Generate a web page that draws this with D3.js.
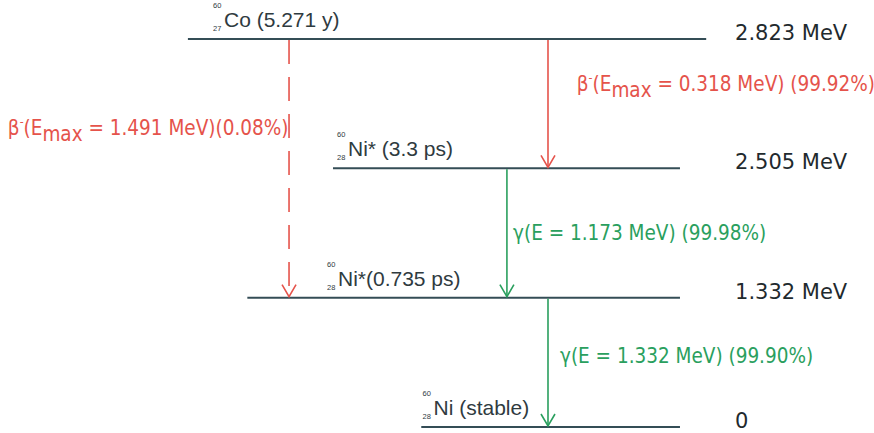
<!DOCTYPE html>
<html>
<head>
<meta charset="utf-8">
<script src="https://cdn.jsdelivr.net/npm/d3@7/dist/d3.min.js"></script>
<style>
  html, body { margin: 0; padding: 0; background: #fff; }
  svg { display: block; }
  .lvl-name { font-family: "Liberation Sans", Arial, sans-serif; fill: #2f3b3f; }
  .lvl-energy { font-family: "DejaVu Sans", sans-serif; fill: #1f2a2e; }
  .trans-label { font-family: "DejaVu Sans", sans-serif; font-stretch: condensed; }
</style>
</head>
<body>
<svg id="chart" width="874" height="433"></svg>
<script>
// Energy levels of the 60Co decay scheme (top to bottom)
const levelIds      = ["co60", "ni60_2", "ni60_1", "ni60_0"];
const levelEnergies = [2.823, 2.505, 1.332, 0];
const levelEnergyLabels = ["2.823 MeV", "2.505 MeV", "1.332 MeV", "0"];
const levelElements = ["Co", "Ni", "Ni", "Ni"];
const levelZ        = [27, 28, 28, 28];
const levelA        = [60, 60, 60, 60];
const levelStates   = [" (5.271 y)", "* (3.3 ps)", "*(0.735 ps)", " (stable)"];

// Transitions between levels
const transFrom   = ["co60", "co60", "ni60_2", "ni60_1"];
const transTo     = ["ni60_2", "ni60_1", "ni60_1", "ni60_0"];
const transKind   = ["beta", "beta", "gamma", "gamma"];
const transEnergy = [0.318, 1.491, 1.173, 1.332];
const transBranch = ["99.92%", "0.08%", "99.98%", "99.90%"];

const svg = d3.select("#chart");
const W = 874, H = 433;

// Schematic vertical placement: levels evenly spaced
const y = d3.scalePoint().domain(levelIds).range([39, 427]);
// Horizontal layout in chart units (0..100)
const x = d3.scaleLinear().domain([0, 100]).range([0, W]);

const levelSpan = {
  co60:   [21.5, 80.8],
  ni60_2: [38.1, 77.8],
  ni60_1: [28.3, 77.8],
  ni60_0: [48.2, 77.8]
};
const nameX = { co60: 25.63, ni60_2: 39.82, ni60_1: 38.67, ni60_0: 49.6 };
const transX = [62.7, 33.07, 58.0, 62.7];

const red = "#e5534b", green = "#2a9f5e", dark = "#344d56";

// Level lines
levelIds.forEach((id, i) => {
  const [a, b] = levelSpan[id];
  svg.append("line")
    .attr("x1", x(a)).attr("x2", x(b))
    .attr("y1", y(id)).attr("y2", y(id))
    .attr("stroke", dark).attr("stroke-width", 2);

  // Energy value on the right
  svg.append("text").attr("class", "lvl-energy")
    .attr("x", x(84.1)).attr("y", y(id) + 1)
    .attr("font-size", 21)
    .text(levelEnergyLabels[i]);

  // Nuclide label with A and Z prescripts
  const nx = x(nameX[id]), ny = y(id) - 12;
  const g = svg.append("g").attr("class", "lvl-name");
  g.append("text").attr("x", nx - 11).attr("y", ny - 19).attr("font-size", 7.5).text(levelA[i]);
  g.append("text").attr("x", nx - 11).attr("y", ny + 4).attr("font-size", 7.5).text(levelZ[i]);
  g.append("text").attr("x", nx).attr("y", ny).attr("font-size", 21)
    .text(levelElements[i] + levelStates[i]);
});

// Transition arrows
transFrom.forEach((from, i) => {
  const cx = x(transX[i]);
  const y1 = y(from), y2 = y(transTo[i]) - 1;
  const col = transKind[i] === "beta" ? red : green;
  const line = svg.append("line")
    .attr("x1", cx).attr("x2", cx).attr("y1", y1 + 1).attr("y2", y2)
    .attr("stroke", col).attr("stroke-width", 1.6);
  if (transEnergy[i] === 1.491) line.attr("stroke-dasharray", "24,13");
  svg.append("path")
    .attr("d", `M${cx - 7},${y2 - 12} L${cx},${y2} L${cx + 7},${y2 - 12}`)
    .attr("fill", "none").attr("stroke", col).attr("stroke-width", 1.6);
});

// Transition labels
function betaLabel(sel, e, br, sep) {
  sel.append("tspan").text("β");
  sel.append("tspan").attr("font-size", 12).attr("dy", -9).text("-");
  sel.append("tspan").attr("dy", 9).text("(E");
  sel.append("tspan").attr("dy", 6).text("max");
  sel.append("tspan").attr("dy", -6).text(` = ${e.toFixed(3)} MeV)${sep}(${br})`);
}
const labelPos = [[66.0, 91], [0.9, 135], [58.7, 240], [64.07, 363]];
transFrom.forEach((from, i) => {
  const t = svg.append("text").attr("class", "trans-label")
    .attr("x", x(labelPos[i][0])).attr("y", labelPos[i][1])
    .attr("font-size", 20.5)
    .attr("fill", transKind[i] === "beta" ? red : green);
  if (transKind[i] === "beta") {
    betaLabel(t, transEnergy[i], transBranch[i], transEnergy[i] === 1.491 ? "" : " ");
  } else {
    t.text(`γ(E = ${transEnergy[i].toFixed(3)} MeV) (${transBranch[i]})`);
  }
});
</script>
</body>
</html>
